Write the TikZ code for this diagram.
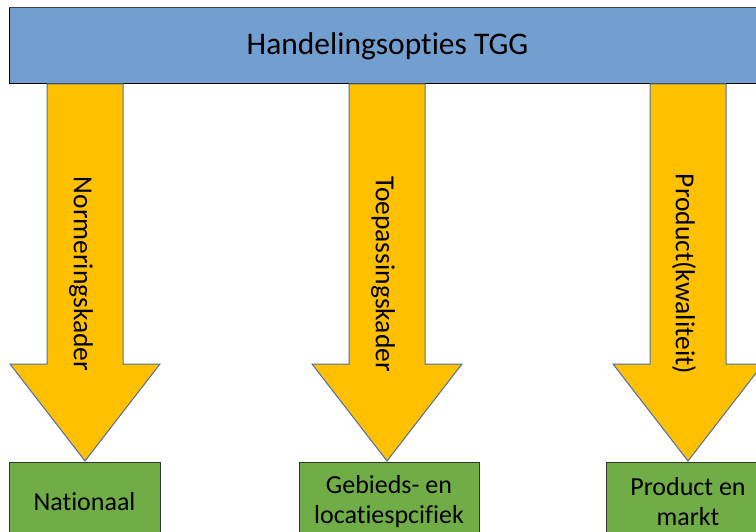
\documentclass[tikz,border=0pt]{standalone}
\usepackage{fontspec}
\setmainfont[Ligatures=NoCommon]{Carlito}

\definecolor{barblue}{HTML}{729FCF}
\definecolor{arrowgold}{HTML}{FFC000}
\definecolor{arrowline}{HTML}{4A6FA8}
\definecolor{boxgreen}{HTML}{70AD47}

\tikzset{
  blockarrow/.style={fill=arrowgold,draw=arrowline,line width=1pt,line join=miter},
  arrowlabel/.style={rotate=-90,inner sep=0pt,font=\fontsize{27.5}{30}\selectfont}
}

\begin{document}
\begin{tikzpicture}[x=1pt,y=-1pt]

      \useasboundingbox (0,0) rectangle (756,532);
      \clip (0,0) rectangle (756,532);

      % top bar
      \node[draw=black,fill=barblue,line width=1pt,minimum width=756pt,minimum height=76pt,
            inner sep=0pt,font=\fontsize{31.5}{36}\selectfont] (bar) at (387.5,46) {Handelingsopties TGG};
      \draw[line width=1.2pt,draw=black!75] (bar.north west) -- (bar.north east);

      % arrows
      \draw[blockarrow,shift={(85,0)}] (-38,84) -- (38,84) -- (38,364) -- (75,364)
            -- (0,461) -- (-75,364) -- (-38,364) -- cycle;
      \draw[blockarrow,shift={(387,0)}] (-38,84) -- (38,84) -- (38,364) -- (75,364)
            -- (0,461) -- (-75,364) -- (-38,364) -- cycle;
      \draw[blockarrow,shift={(688,0)}] (-38,84) -- (38,84) -- (38,364) -- (75,364)
            -- (0,461) -- (-75,364) -- (-38,364) -- cycle;

      \begin{scope}[every node/.style={arrowlabel}]
        \node (norm) at (81,274) {Normeringskader};
        \node (toep) at (383,274) {Toepassingskader};
        \node (prodk) at (684,274) {Product(kwaliteit)};
      \end{scope}

      % boxes
      \begin{scope}[every node/.style={draw=black!80,fill=boxgreen,line width=1pt,anchor=north,
                    minimum height=78pt,inner sep=0pt,align=center,font=\fontsize{26}{30}\selectfont}]
        \node[minimum width=151pt] (nat)  at (84.5,462) {Nationaal};
        \node[minimum width=180pt] (geb)  at (389,462)  {Gebieds- en\\locatiespcifiek};
        \node[minimum width=164pt] (prod) at (688,462)  {Product en\\markt};
      \end{scope}

\end{tikzpicture}
\end{document}
